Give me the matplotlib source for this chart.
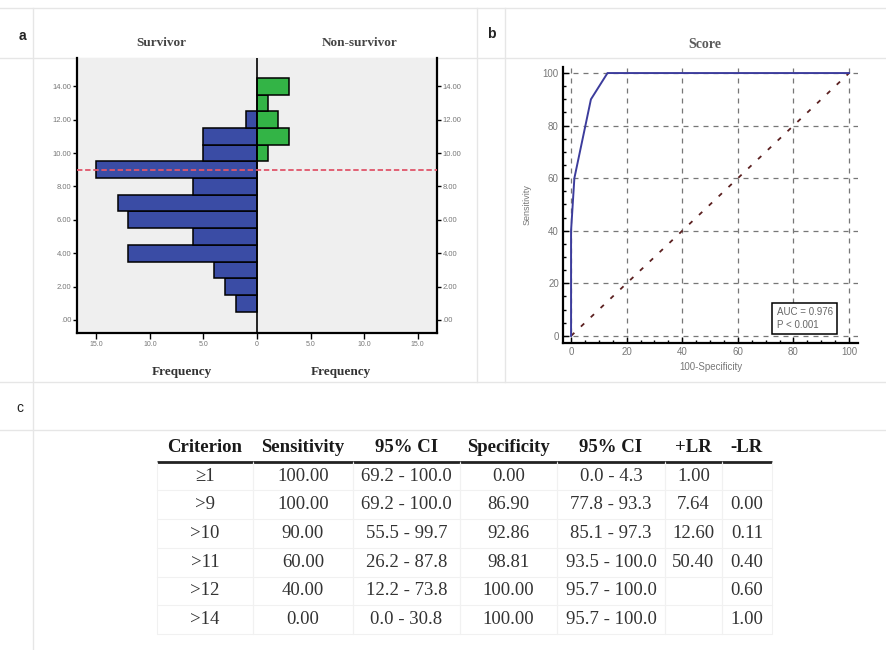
import matplotlib
matplotlib.use("Agg")
import matplotlib.pyplot as plt
from matplotlib.ticker import MultipleLocator

# --- data ---
scores = [1, 2, 3, 4, 5, 6, 7, 8, 9, 10, 11, 12, 13, 14]
survivor_n = [2, 3, 4, 12, 6, 12, 13, 6, 15, 5, 5, 1, 0, 0]
nonsurvivor_n = [0, 0, 0, 0, 0, 0, 0, 0, 0, 1, 3, 2, 1, 3]
cutoff = 9

freq_ticks = [-15, -10, -5, 0, 5, 10, 15]
freq_labels = ["15.0", "10.0", "5.0", "0", "5.0", "10.0", "15.0"]
score_ticks = [0, 2, 4, 6, 8, 10, 12, 14]
score_labels = [".00", "2.00", "4.00", "6.00", "8.00", "10.00", "12.00", "14.00"]

fpr = [0, 0, 1.19, 7.14, 13.1, 100]
tpr = [0, 40, 60, 90, 100, 100]
auc_text = "AUC = 0.976\nP < 0.001"

headers = ["Criterion", "Sensitivity", "95% CI", "Specificity", "95% CI", "+LR", "-LR"]
criterion = ["≥1", ">9", ">10", ">11", ">12", ">14"]
sensitivity = ["100.00", "100.00", "90.00", "60.00", "40.00", "0.00"]
sens_ci = ["69.2 - 100.0", "69.2 - 100.0", "55.5 - 99.7", "26.2 - 87.8", "12.2 - 73.8", "0.0 - 30.8"]
specificity = ["0.00", "86.90", "92.86", "98.81", "100.00", "100.00"]
spec_ci = ["0.0 - 4.3", "77.8 - 93.3", "85.1 - 97.3", "93.5 - 100.0", "95.7 - 100.0", "95.7 - 100.0"]
plus_lr = ["1.00", "7.64", "12.60", "50.40", "", ""]
minus_lr = ["", "0.00", "0.11", "0.40", "0.60", "1.00"]

W, H = 887, 650
SERIF = "Liberation Serif"
SANS = "Liberation Sans"


def frac(x0, y0, x1, y1):
    # pixel box (top-left origin) -> figure fraction
    return [x0 / W, 1 - y1 / H, (x1 - x0) / W, (y1 - y0) / H]


fig = plt.figure(figsize=(W / 100, H / 100), dpi=100)

# background frame in pixel units
bg = fig.add_axes([0, 0, 1, 1])
bg.set_xlim(0, W)
bg.set_ylim(H, 0)
bg.axis("off")
lc = "#e6e6e6"
for yy in [8, 58, 382, 430]:
    bg.plot([0, W], [yy, yy], color=lc, lw=1)
bg.plot([33, 33], [8, H], color=lc, lw=1)
for xx in [477, 505]:
    bg.plot([xx, xx], [8, 382], color=lc, lw=1)

bg.text(22, 36, "a", fontsize=10, fontweight="bold", family=SANS, color="#222", ha="center", va="center")
bg.text(491, 34, "b", fontsize=10, fontweight="bold", family=SANS, color="#222", ha="center", va="center")
bg.text(20, 408, "c", fontsize=10, family=SANS, color="#222", ha="center", va="center")

bg.text(161, 43, "Survivor", fontsize=9.5, fontweight="bold", family=SERIF, color="#444", ha="center", va="center")
bg.text(360, 43, "Non-survivor", fontsize=9.5, fontweight="bold", family=SERIF, color="#444", ha="center", va="center")
bg.text(182, 372, "Frequency", fontsize=9.5, fontweight="bold", family=SERIF, color="#333", ha="center", va="center")
bg.text(341, 372, "Frequency", fontsize=9.5, fontweight="bold", family=SERIF, color="#333", ha="center", va="center")
bg.text(705, 45, "Score", fontsize=10, family=SERIF, fontweight="bold", color="#5a5a5a", ha="center", va="center")

# --- a: population pyramid ---
ax = fig.add_axes(frac(77, 58, 437, 333))
ax.set_facecolor("#efefef")
s_y = [s for s, n in zip(scores, survivor_n) if n > 0]
s_w = [-n for n in survivor_n if n > 0]
n_y = [s for s, n in zip(scores, nonsurvivor_n) if n > 0]
n_w = [n for n in nonsurvivor_n if n > 0]
ax.barh(s_y, s_w, height=1, color="#3a4ca5", edgecolor="black", lw=1.1, zorder=2)
ax.barh(n_y, n_w, height=1, color="#33b446", edgecolor="black", lw=1.1, zorder=2)
ax.axvline(0, color="black", lw=1.2, zorder=3)
ax.axhline(cutoff, color="#e0566b", lw=1.3, ls=(0, (3, 1.5)), zorder=4)
ax.set_xlim(-16.8, 16.8)
ax.set_ylim(-0.78, 15.69)
ax.set_xticks(freq_ticks)
ax.set_xticklabels(freq_labels)
ax.set_yticks(score_ticks)
ax.set_yticklabels(score_labels)
ax.tick_params(axis="y", left=True, right=True, labelleft=True, labelright=True,
               direction="out", length=3, width=1, labelsize=5.5, labelcolor="#777", pad=1)
ax.tick_params(axis="x", direction="out", length=4, width=1, labelsize=5, labelcolor="#777", pad=2)
for t in ax.get_xticklabels() + ax.get_yticklabels() + ax.yaxis.get_ticklabels(which="major"):
    t.set_family(SANS)
ax.spines["top"].set_visible(False)
for side in ["left", "right", "bottom"]:
    ax.spines[side].set_linewidth(1.6)

# --- b: ROC curve ---
bx = fig.add_axes(frac(563, 67, 858, 343))
bx.set_xlim(-2.9, 103.2)
bx.set_ylim(-2.7, 102.3)
bx.xaxis.set_major_locator(MultipleLocator(20))
bx.yaxis.set_major_locator(MultipleLocator(20))
bx.xaxis.set_minor_locator(MultipleLocator(5))
bx.yaxis.set_minor_locator(MultipleLocator(5))
bx.grid(True, which="major", ls=(0, (4, 4)), color="#777", lw=0.9)
bx.set_axisbelow(True)
bx.plot([0, 100], [0, 100], color="#5b2020", lw=1.3, ls=(0, (2.5, 5)), zorder=3)
bx.plot(fpr, tpr, color="#3c3c9c", lw=1.4, zorder=4)
bx.text(74.0, 2.3, auc_text, fontsize=7, family=SANS, color="#666", ha="left", va="bottom",
        linespacing=1.3, zorder=6,
        bbox=dict(boxstyle="square,pad=0.45", fc="white", ec="black", lw=1.1))
bx.tick_params(which="both", direction="in", top=False, right=False, width=1,
               labelsize=7, labelcolor="#777", pad=3)
bx.tick_params(which="major", length=4)
bx.tick_params(which="minor", length=2.5)
for t in bx.get_xticklabels() + bx.get_yticklabels():
    t.set_family(SANS)
bx.spines["top"].set_visible(False)
bx.spines["right"].set_visible(False)
bx.spines["left"].set_linewidth(1.6)
bx.spines["bottom"].set_linewidth(1.6)
bx.set_ylabel("Sensitivity", fontsize=6.5, family=SANS, color="#777")
bx.set_xlabel("100-Specificity", fontsize=7, family=SANS, color="#777")
bx.yaxis.set_label_coords(-0.108, 0.5)
bx.xaxis.set_label_coords(0.5, -0.069)

# --- c: table ---
tx = fig.add_axes(frac(157, 433, 772, 634))
tx.axis("off")
rows = list(zip(criterion, sensitivity, sens_ci, specificity, spec_ci, plus_lr, minus_lr))
col_w = [96, 100, 107, 97, 108, 57, 50]
tot = sum(col_w)
tab = tx.table(cellText=rows, colLabels=headers, cellLoc="center",
               colWidths=[c / tot for c in col_w], bbox=[0, 0, 1, 1])
tab.auto_set_font_size(False)
for (r, c), cell in tab.get_celld().items():
    txt = cell.get_text()
    txt.set_family(SERIF)
    txt.set_fontsize(13.5)
    cell.set_facecolor("none")
    if r == 0:
        txt.set_fontweight("bold")
        txt.set_color("#1a1a1a")
        cell.visible_edges = "B"
        cell.set_edgecolor("#222")
        cell.set_linewidth(2.0)
    else:
        txt.set_color("#333")
        cell.visible_edges = "LRB"
        cell.set_edgecolor("#f1f1f1")
        cell.set_linewidth(0.8)

fig.savefig("out.png", dpi=100)
